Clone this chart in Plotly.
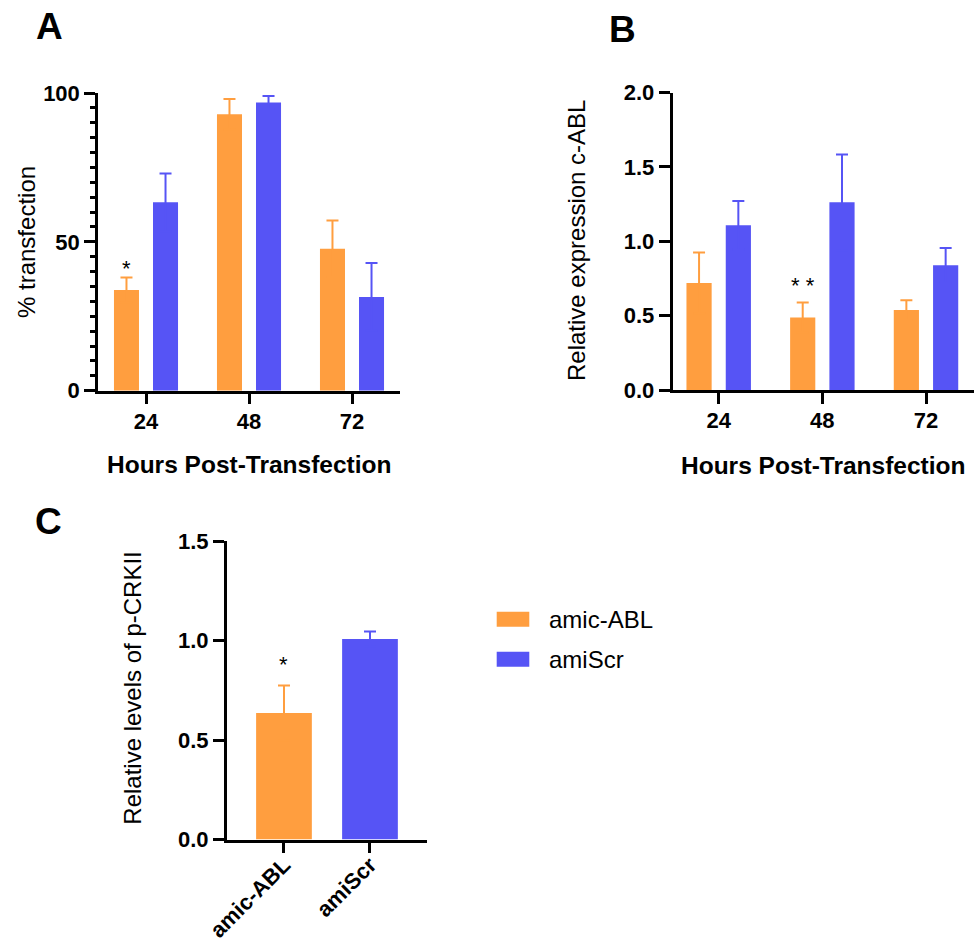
import plotly.graph_objects as go

# ---------------- data ----------------
hours = ["24", "48", "72"]
series_names = ["amic-ABL", "amiScr"]

transfection_amic = [33.8, 92.9, 47.7]
transfection_amic_err = [4.2, 5.1, 9.5]
transfection_scr = [63.3, 96.8, 31.5]
transfection_scr_err = [9.7, 2.2, 11.4]

expr_amic = [0.72, 0.488, 0.537]
expr_amic_err = [0.204, 0.101, 0.067]
expr_scr = [1.107, 1.262, 0.839]
expr_scr_err = [0.163, 0.322, 0.116]

crk_groups = ["amic-ABL", "amiScr"]
crk_values = [0.636, 1.007]
crk_err = [0.138, 0.038]

# ---------------- style ----------------
ORANGE = "#FF9E3F"
BLUE = "#5654F5"
COLORS = [ORANGE, BLUE]
FONT = "Arial, Liberation Sans, sans-serif"
W, H = 974, 947


def px_x(p):
    return p / W


def px_y(p):
    return 1 - p / H


fig = go.Figure()

BAR_W = 0.243
OFFSETS = [-0.311, 0.068]


def err(arr, color):
    # symmetric bars; the lower half is hidden inside the bar of the same colour
    return dict(type="data", array=arr, color=color, thickness=2, width=6)


# Panel A
for vals, errs, color, off in [(transfection_amic, transfection_amic_err, ORANGE, OFFSETS[0]),
                               (transfection_scr, transfection_scr_err, BLUE, OFFSETS[1])]:
    fig.add_trace(go.Bar(x=hours, y=vals, width=BAR_W, offset=off,
                         marker=dict(color=color, line=dict(width=0)),
                         error_y=err(errs, color), xaxis="x", yaxis="y", showlegend=False))
# Panel B
for vals, errs, color, off in [(expr_amic, expr_amic_err, ORANGE, OFFSETS[0]),
                               (expr_scr, expr_scr_err, BLUE, OFFSETS[1])]:
    fig.add_trace(go.Bar(x=hours, y=vals, width=BAR_W, offset=off,
                         marker=dict(color=color, line=dict(width=0)),
                         error_y=err(errs, color), xaxis="x2", yaxis="y2", showlegend=False))
# Panel C
for i, g in enumerate(crk_groups):
    fig.add_trace(go.Bar(x=[g], y=[crk_values[i]], width=0.648, offset=-0.324,
                         marker=dict(color=COLORS[i], line=dict(width=0)),
                         error_y=err([crk_err[i]], COLORS[i]),
                         xaxis="x3", yaxis="y3", showlegend=False))

tickfont = dict(family=FONT, size=22, color="black", weight=700)
common_x = dict(type="category", showline=True, linecolor="black", linewidth=2.5,
                ticks="outside", ticklen=11, tickwidth=2.5, tickcolor="black",
                tickfont=tickfont, showgrid=False, zeroline=False,
                ticklabelstandoff=-2, automargin=False, fixedrange=True)
common_y = dict(showline=True, linecolor="black", linewidth=2.5,
                ticks="outside", ticklen=11, tickwidth=2.5, tickcolor="black",
                tickfont=tickfont, showgrid=False, zeroline=False,
                automargin=False, fixedrange=True)

fig.update_layout(
    width=W, height=H,
    margin=dict(l=0, r=0, t=0, b=0, pad=0, autoexpand=False),
    paper_bgcolor="white", plot_bgcolor="white",
    barmode="overlay", showlegend=False,
    font=dict(family=FONT, color="black"),
    xaxis=dict(common_x, domain=[px_x(98), px_x(400)], range=[-0.466, 2.466], anchor="y"),
    yaxis=dict(common_y, domain=[px_y(390.7), px_y(93)], range=[0, 100],
               tickvals=[0, 50, 100], anchor="x",
               minor=dict(dtick=5, ticks="outside", ticklen=5, tickwidth=2.5,
                          tickcolor="black", showgrid=False)),
    xaxis2=dict(common_x, domain=[px_x(672.5), 1.0], range=[-0.4457, 2.463], anchor="y2"),
    yaxis2=dict(common_y, domain=[px_y(390), px_y(92.5)], range=[0, 2.0],
                tickvals=[0, 0.5, 1.0, 1.5, 2.0], tickformat=".1f", anchor="x2"),
    xaxis3=dict(common_x, domain=[px_x(226.7), px_x(427)], range=[-0.666, 1.663],
                tickangle=-45, anchor="y3", ticklabelstandoff=-10),
    yaxis3=dict(common_y, domain=[px_y(839.5), px_y(541)], range=[0, 1.5],
                tickvals=[0, 0.5, 1.0, 1.5], tickformat=".1f", anchor="x3"),
)

annotations = []
# panel letters
for letter, x, y in [("A", 49, 26), ("B", 622, 30), ("C", 48, 521)]:
    annotations.append(dict(text=letter, x=px_x(x), y=px_y(y), xref="paper", yref="paper",
                            showarrow=False, xanchor="center", yanchor="middle",
                            font=dict(family=FONT, size=37, color="black", weight=700)))
# axis titles
for text, x, y in [("% transfection", 26, 242),
                   ("Relative expression c-ABL", 577, 241),
                   ("Relative levels of p-CRKII", 131.7, 688)]:
    annotations.append(dict(text=text, x=px_x(x), y=px_y(y), xref="paper", yref="paper",
                            textangle=-90, showarrow=False, xanchor="center",
                            yanchor="middle", font=dict(family=FONT, size=24, color="black")))
for x, y in [(249.5, 464), (823.7, 465)]:
    annotations.append(dict(text="Hours Post-Transfection", x=px_x(x), y=px_y(y),
                            xref="paper", yref="paper", showarrow=False,
                            xanchor="center", yanchor="middle",
                            font=dict(family=FONT, size=24.5, color="black", weight=700)))


# significance marks (anchored at the top of the amic-ABL error bar)
def star(text, xidx, ytop, xref, yref, xshift, yshift):
    return dict(text=text, x=xidx, y=ytop, xref=xref, yref=yref, showarrow=False,
                xanchor="center", yanchor="bottom", xshift=xshift, yshift=yshift,
                font=dict(family=FONT, size=22, color="black"))


annotations.append(star("*", 0, transfection_amic[0] + transfection_amic_err[0],
                        "x", "y", -19.5, -5))
annotations.append(star("*&nbsp;*", 1, expr_amic[1] + expr_amic_err[1],
                        "x2", "y2", -19.5, 2))
annotations.append(star("*", 0, crk_values[0] + crk_err[0], "x3", "y3", 0, 6))

# legend (manual)
shapes = []
for i, (name, color) in enumerate(zip(series_names, COLORS)):
    yc = 619.2 + 40 * i
    shapes.append(dict(type="rect", xref="paper", yref="paper",
                       x0=px_x(496.7), x1=px_x(529.3), y0=px_y(yc + 7.5), y1=px_y(yc - 7.5),
                       fillcolor=color, line=dict(width=0)))
    annotations.append(dict(text=name, x=px_x(547), y=px_y(yc), xref="paper", yref="paper",
                            showarrow=False, xanchor="left", yanchor="middle",
                            font=dict(family=FONT, size=24, color="black")))

fig.update_layout(annotations=annotations, shapes=shapes)
fig.write_html(
    "out.html",
    config={"displayModeBar": False},
    post_script="document.body.style.margin='0';document.body.style.padding='0';"
                "document.body.style.overflow='hidden';",
)
